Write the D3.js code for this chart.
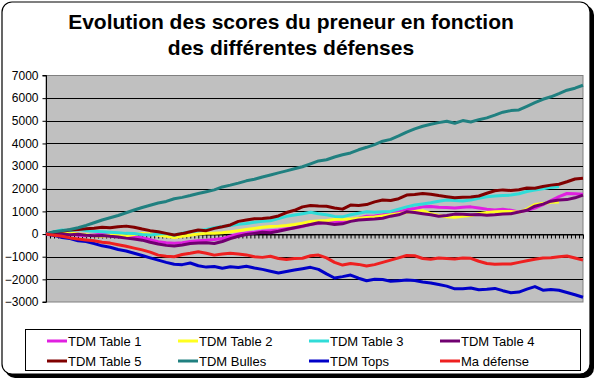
<!DOCTYPE html>
<html><head><meta charset="utf-8">
<script src="https://cdn.jsdelivr.net/npm/d3@7"></script>
<style>body{margin:0;background:#fff}svg{display:block}</style>
</head><body>
<svg id="c" width="596" height="380"></svg>
<script>
const titleLines = ["Evolution des scores du preneur en fonction", "des différentes défenses"];
const rounds = d3.range(1, 136);              // category axis (one tick per round)
const sampleRounds = d3.range(1, 136, 2);     // rounds at which the values below are read
const yTicks = [-3000,-2000,-1000,0,1000,2000,3000,4000,5000,6000,7000];
const seriesNames = ["TDM Table 1","TDM Table 2","TDM Table 3","TDM Table 4","TDM Table 5","TDM Bulles","TDM Tops","Ma défense"];
const seriesColors = ["#e020e0","#ffff20","#30dcd8","#700070","#800000","#208080","#0000c8","#ee2020"];

const table1 = [0,-20,50,20,-50,-80,-40,0,-60,-80,-100,-130,-160,-250,-340,-380,-410,-380,-330,-300,-270,-240,-200,-100,0,50,80,120,150,180,230,270,330,430,470,520,540,520,620,700,790,800,850,920,980,1080,1130,1200,1220,1180,1170,1150,1180,1200,1150,1100,1060,1100,1050,980,1050,1150,1300,1480,1650,1790,1780,1760];
const table2 = [0,50,100,50,0,-30,-80,-100,-60,-50,-80,-20,30,0,-50,-100,-150,-100,-50,0,30,40,60,100,150,200,250,300,330,350,380,420,480,550,580,600,640,660,650,700,730,750,800,850,900,950,1000,1030,900,820,760,740,780,820,900,950,980,1000,1000,960,1100,1300,1350,1400,1420,null,null,null];
const table3 = [0,100,180,150,200,160,120,100,80,60,30,20,-20,-40,0,20,-50,40,100,150,200,280,330,380,430,470,520,560,590,680,780,840,900,960,900,850,780,760,850,920,980,960,980,1000,1100,1200,1280,1330,1380,1450,1500,1480,1460,1500,1580,1650,1680,1700,1720,1780,1880,1940,2000,2060,2100,null,null,null];
const table4 = [0,30,0,-30,-10,-50,-80,-60,-100,-130,-180,-220,-270,-360,-440,-500,-530,-480,-420,-400,-380,-420,-330,-200,-100,-20,30,80,60,120,200,280,350,420,500,480,420,450,560,620,640,660,700,790,850,980,950,900,850,790,820,880,870,850,860,830,850,880,900,970,1050,1230,1320,1450,1500,1520,1600,1720];
const table5 = [0,80,120,180,200,230,260,300,280,320,350,300,220,150,100,30,-40,20,100,180,150,250,320,400,560,620,680,690,720,800,950,1050,1200,1260,1240,1230,1150,1100,1280,1260,1300,1420,1500,1480,1560,1720,1750,1790,1760,1700,1650,1600,1620,1640,1680,1800,1910,1950,1920,1960,2030,2020,2100,2160,2200,2310,2430,2460];
const bulles = [0,100,150,200,280,380,500,620,720,820,940,1060,1170,1270,1370,1440,1560,1620,1700,1790,1870,1950,2080,2160,2250,2350,2420,2520,2610,2700,2790,2880,2970,3100,3230,3280,3400,3500,3580,3720,3830,3950,4100,4180,4330,4500,4640,4760,4850,4920,4980,4890,5010,4950,5050,5130,5250,5380,5450,5480,5640,5800,5950,6060,6200,6350,6440,6570];
const tops = [0,-60,-150,-200,-300,-330,-420,-520,-580,-680,-750,-850,-950,-1050,-1150,-1250,-1330,-1350,-1280,-1400,-1460,-1430,-1510,-1440,-1480,-1420,-1500,-1560,-1640,-1720,-1650,-1590,-1530,-1470,-1560,-1760,-1940,-1880,-1810,-1950,-2060,-2000,-2010,-2080,-2060,-2030,-2050,-2120,-2160,-2230,-2300,-2420,-2410,-2380,-2460,-2440,-2400,-2500,-2590,-2560,-2430,-2320,-2480,-2450,-2480,-2580,-2680,-2790];
const maDefense = [0,-50,-100,-170,-220,-260,-300,-360,-400,-470,-540,-620,-700,-800,-930,-980,-1000,-900,-850,-780,-850,-930,-880,-850,-880,-920,-1000,-1030,-980,-1080,-1120,-1080,-1070,-960,-930,-1050,-1250,-1370,-1300,-1340,-1410,-1350,-1250,-1150,-1050,-950,-960,-1080,-1110,-1060,-1080,-1100,-1060,-1070,-1200,-1300,-1330,-1320,-1320,-1250,-1180,-1110,-1060,-1050,-1000,-970,-1060,-1150];

const seriesValues = [table1, table2, table3, table4, table5, bulles, tops, maDefense];

const svg = d3.select("#c");
const font = "'Liberation Sans', Arial, sans-serif";

// outer frame with shadow
svg.append("rect").attr("x",5).attr("y",5).attr("width",589).attr("height",373).attr("rx",10).attr("fill","#000");
svg.append("rect").attr("x",2).attr("y",2).attr("width",588).attr("height",372).attr("rx",10)
  .attr("fill","#fff").attr("stroke","#000").attr("stroke-width",1.2);

// title
svg.append("g").selectAll("text").data(titleLines).join("text")
  .attr("x", 291).attr("y", (d,i)=> 29 + i*26)
  .attr("text-anchor","middle").attr("font-family",font).attr("font-weight","bold")
  .attr("font-size", 21).attr("fill","#000").text(d=>d);

const L = 46, R = 583, T = 75.5, B = 302;
const x = d3.scalePoint().domain(rounds).range([L, R]);
const y = d3.scaleLinear().domain([-3000, 7000]).range([B, T]);

// plot area
svg.append("rect").attr("x",L).attr("y",T).attr("width",R-L).attr("height",B-T)
  .attr("fill","#c0c0c0").attr("stroke","#808080").attr("stroke-width",1);

// gridlines
svg.append("g").selectAll("line").data(yTicks.filter(v=>v!==-3000 && v!==7000)).join("line")
  .attr("x1",L).attr("x2",R).attr("y1",d=>Math.round(y(d))+0.5).attr("y2",d=>Math.round(y(d))+0.5)
  .attr("stroke","#000").attr("stroke-width",1);

// y axis
const yAxis = svg.append("g").attr("transform",`translate(${L+0.5},0)`)
  .call(d3.axisLeft(y).tickValues(yTicks).tickSize(4).tickPadding(4).tickFormat(d3.format("d")));
yAxis.selectAll("text").attr("font-family",font).attr("font-size",12).attr("fill","#000");
yAxis.selectAll("line,path").attr("stroke","#000");
yAxis.select(".domain").attr("d",`M-4,${y(7000)}H0V${y(-3000)}H-4`);

// x axis (at zero)
const xAxis = svg.append("g").attr("transform",`translate(0,${Math.round(y(0))+0.5})`)
  .call(d3.axisBottom(x).tickValues(rounds).tickSize(4).tickFormat(""));
xAxis.selectAll("line,path").attr("stroke","#000");

// series
const line = d3.line().defined(d=>d[1]!==null).x(d=>x(d[0])).y(d=>y(d[1]));
svg.append("g").selectAll("path").data(seriesValues).join("path")
  .attr("d", vals => line(vals.map((v,i)=>[sampleRounds[i], v])))
  .attr("fill","none").attr("stroke",(d,i)=>seriesColors[i]).attr("stroke-width",3)
  .attr("stroke-linejoin","round");

// legend
svg.append("rect").attr("x",25.5).attr("y",329.5).attr("width",555).attr("height",41)
  .attr("fill","#fff").attr("stroke","#000").attr("stroke-width",1);
const colX = [47, 178, 309, 440];
const leg = svg.append("g").selectAll("g").data(seriesNames).join("g")
  .attr("transform",(d,i)=>`translate(${colX[i%4]},${i<4?341:361})`);
leg.append("line").attr("x1",0).attr("x2",20).attr("y1",0).attr("y2",0)
  .attr("stroke",(d,i)=>seriesColors[i]).attr("stroke-width",3);
leg.append("text").attr("x",21).attr("y",4.5).attr("font-family",font).attr("font-size",13)
  .attr("fill","#000").text(d=>d);
</script>
</body></html>
